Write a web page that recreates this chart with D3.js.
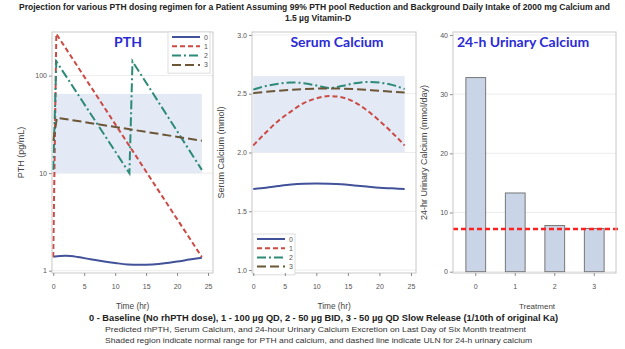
<!DOCTYPE html>
<html>
<head>
<meta charset="utf-8">
<script src="https://cdn.jsdelivr.net/npm/d3@7"></script>
<style>
  body { margin: 0; background: #fff; }
  svg { font-family: "Liberation Sans", Arial, sans-serif; }
</style>
</head>
<body>
<div id="chart"></div>
<script>
// PTH (pg/mL) over the last day, [time hr, value]
const pth0 = [[0, 1.39], [2, 1.42], [4, 1.38], [6, 1.31], [8, 1.25], [10, 1.2], [12, 1.16], [14, 1.15], [16, 1.16], [18, 1.19], [20, 1.24], [22, 1.3], [24, 1.36]];
const pth1 = [[0, 1.38], [0.5, 268], [24, 1.38]];
const pth2 = [[0, 10.8], [0.5, 140], [12.3, 10], [12.8, 140], [24, 10.8]];
const pth3 = [[0, 21.5], [0.6, 37], [24, 21.5]];

// Serum calcium (mmol)
const ca0 = [[0, 1.69], [2, 1.7], [4, 1.715], [6, 1.728], [8, 1.735], [10, 1.737], [12, 1.735], [14, 1.73], [16, 1.72], [18, 1.71], [20, 1.7], [22, 1.695], [24, 1.69]];
const ca1 = [[0, 2.06], [2, 2.17], [4, 2.27], [6, 2.35], [8, 2.42], [10, 2.46], [12, 2.48], [14, 2.47], [16, 2.43], [18, 2.36], [20, 2.27], [22, 2.17], [24, 2.06]];
const ca2 = [[0, 2.535], [2, 2.565], [4, 2.585], [6, 2.596], [8, 2.59], [10, 2.57], [12, 2.548], [14, 2.565], [16, 2.588], [18, 2.6], [20, 2.595], [22, 2.575], [24, 2.54]];
const ca3 = [[0, 2.505], [4, 2.525], [8, 2.54], [12, 2.545], [16, 2.54], [20, 2.525], [24, 2.51]];

// 24-h urinary calcium (mmol/day)
const treatments = ['0', '1', '2', '3'];
const urineCa = [32.8, 13.3, 7.8, 7.3];
const urineULN = 7.2;

const pthRange = [10, 65];
const caRange = [2.0, 2.65];
const timeTicks = [0, 5, 10, 15, 20, 25];
const seriesNames = ['0', '1', '2', '3'];

const colors = ['#42529a', '#cc4a44', '#2c8a78', '#6b5636'];
const dashes = [null, '5,3', '9,3,2,3', '9,4'];

const width = 625, height = 349;
const plotTop = 32, plotBottom = 273;

const svg = d3.select('#chart').append('svg')
  .attr('width', width)
  .attr('height', height);

// fixed-width text line, centred on x
function textLine(x, y, len, size, weight, fill, str) {
  svg.append('text')
    .attr('x', x).attr('y', y)
    .attr('text-anchor', 'middle')
    .attr('textLength', len).attr('lengthAdjust', 'spacingAndGlyphs')
    .style('font-size', size + 'px').style('font-weight', weight).style('fill', fill)
    .text(str);
}

// header
textLine(314.5, 10, 591, 8.5, 'bold', '#222', 'Projection for various PTH dosing regimen for a Patient Assuming 99% PTH pool Reduction and Background Daily Intake of 2000 mg Calcium and');
svg.append('text')
  .attr('x', 318).attr('y', 21)
  .attr('text-anchor', 'middle')
  .style('font-size', '8.5px').style('font-weight', 'bold').style('fill', '#222')
  .text('1.5 µg Vitamin-D');

function frame(x0, x1, y, yTicks, fmt, ylabel, ylabelX) {
  const g = svg.append('g');
  // grid
  g.selectAll('.grid').data(yTicks).enter().append('line')
    .attr('x1', x0).attr('x2', x1)
    .attr('y1', d => y(d)).attr('y2', d => y(d))
    .style('stroke', '#ececec');
  const ax = g.append('g')
    .attr('transform', `translate(${x0},0)`)
    .call(d3.axisLeft(y).tickValues(yTicks).tickFormat(fmt).tickSize(3).tickPadding(2));
  ax.select('.domain').remove();
  ax.selectAll('line').style('stroke', '#888');
  ax.selectAll('text').style('font-size', '7px').style('fill', '#555');
  svg.append('text')
    .attr('transform', `translate(${ylabelX},${(plotTop + plotBottom) / 2}) rotate(-90)`)
    .attr('text-anchor', 'middle')
    .style('font-size', '9px').style('fill', '#444')
    .text(ylabel);
  return g;
}

function outline(x0, x1) {
  svg.append('rect')
    .attr('x', x0).attr('y', plotTop)
    .attr('width', x1 - x0).attr('height', plotBottom - plotTop)
    .style('fill', 'none').style('stroke', '#c8c8c8');
}

function panelTitle(x, text, anchor) {
  svg.append('text')
    .attr('x', x).attr('y', 47)
    .attr('text-anchor', anchor || 'middle')
    .style('font-family', 'Lato, "Open Sans", sans-serif')
    .style('font-size', '14px').style('font-weight', 'bold').style('fill', '#2b2bd6')
    .text(text);
}

function timeAxis(x, label) {
  const ax = svg.append('g')
    .attr('transform', `translate(0,${plotBottom})`)
    .call(d3.axisBottom(x).tickValues(timeTicks).tickSize(3).tickPadding(8));
  ax.select('.domain').remove();
  ax.selectAll('line').style('stroke', '#888');
  ax.selectAll('text').style('font-size', '7px').style('fill', '#555');
  svg.append('text')
    .attr('x', (x(0) + x(25)) / 2 + 2).attr('y', 309)
    .attr('text-anchor', 'middle')
    .style('font-size', '8.3px').style('fill', '#444')
    .text(label);
}

function legend(x, y, boxW, rowH) {
  const lg = svg.append('g');
  lg.append('rect')
    .attr('x', x).attr('y', y)
    .attr('width', boxW).attr('height', rowH * 4 + 4)
    .style('fill', '#fff').style('stroke', '#ddd');
  seriesNames.forEach((n, i) => {
    const yy = y + 5 + i * rowH;
    lg.append('line')
      .attr('x1', x + 4).attr('x2', x + 32)
      .attr('y1', yy).attr('y2', yy)
      .style('stroke', colors[i]).style('stroke-width', 2)
      .style('stroke-dasharray', dashes[i]);
    lg.append('text')
      .attr('x', x + 36).attr('y', yy + 2.5)
      .style('font-size', '7px').style('fill', '#555')
      .text(n);
  });
}

// ---------- PTH panel ----------
const x1 = d3.scaleLinear().domain([-0.2, 25.8]).range([52, 213]);
const y1 = d3.scaleLog().domain([0.947, 280]).range([plotBottom, plotTop]);
frame(52, 213, y1, [1, 10, 100], d3.format('d'), 'PTH (pg/mL)', 24);
svg.append('rect')
  .attr('x', x1(0)).attr('y', y1(pthRange[1]))
  .attr('width', x1(24) - x1(0)).attr('height', y1(pthRange[0]) - y1(pthRange[1]))
  .style('fill', '#e3e9f5');
const line1 = d3.line().x(d => x1(d[0])).y(d => y1(d[1]));
[pth0, pth1, pth2, pth3].forEach((s, i) => {
  svg.append('path')
    .attr('d', i === 0 ? line1.curve(d3.curveMonotoneX)(s) : line1.curve(d3.curveLinear)(s))
    .style('fill', 'none')
    .style('stroke', colors[i]).style('stroke-width', 2)
    .style('stroke-dasharray', dashes[i]);
});
outline(52, 213);
panelTitle(128, 'PTH');
legend(168, 32, 42, 9.3);
timeAxis(x1, 'Time (hr)');

// ---------- Serum calcium panel ----------
const x2 = d3.scaleLinear().domain([-0.2, 25.8]).range([252, 416]);
const y2 = d3.scaleLinear().domain([0.975, 3.025]).range([plotBottom, plotTop]);
frame(252, 416, y2, [1.0, 1.5, 2.0, 2.5, 3.0], d3.format('.1f'), 'Serum Calcium (mmol)', 224);
svg.append('rect')
  .attr('x', x2(0)).attr('y', y2(caRange[1]))
  .attr('width', x2(24) - x2(0)).attr('height', y2(caRange[0]) - y2(caRange[1]))
  .style('fill', '#e3e9f5');
const line2 = d3.line().x(d => x2(d[0])).y(d => y2(d[1])).curve(d3.curveMonotoneX);
[ca0, ca1, ca2, ca3].forEach((s, i) => {
  svg.append('path')
    .datum(s)
    .attr('d', line2)
    .style('fill', 'none')
    .style('stroke', colors[i]).style('stroke-width', 2)
    .style('stroke-dasharray', dashes[i]);
});
outline(252, 416);
panelTitle(337, 'Serum Calcium');
legend(253, 234, 42, 9.2);
timeAxis(x2, 'Time (hr)');

// ---------- Urinary calcium panel ----------
const x3 = d3.scaleBand().domain(treatments).range([456, 614]).paddingInner(0.5).paddingOuter(0.25);
const y3 = d3.scaleLinear().domain([-0.22, 40.5]).range([plotBottom, plotTop]);
frame(453, 616, y3, [0, 10, 20, 30, 40], d3.format('d'), '24-hr Urinary Calcium (mmol/day)', 427);
svg.selectAll('.bar')
  .data(urineCa)
  .enter().append('rect')
  .attr('x', (d, i) => x3(treatments[i]))
  .attr('y', d => y3(d))
  .attr('width', x3.bandwidth())
  .attr('height', d => y3(0) - y3(d))
  .style('fill', '#c9d4e6')
  .style('stroke', '#777').style('stroke-width', 1);
svg.append('line')
  .attr('x1', 453).attr('x2', 619)
  .attr('y1', y3(urineULN)).attr('y2', y3(urineULN))
  .style('stroke', '#ff2020').style('stroke-width', 2.5)
  .style('stroke-dasharray', '5,3');
outline(453, 616);
panelTitle(457, '24-h Urinary Calcium', 'start');
const ax3 = svg.append('g')
  .attr('transform', `translate(0,${plotBottom})`)
  .call(d3.axisBottom(x3).tickSize(3).tickPadding(8));
ax3.select('.domain').remove();
ax3.selectAll('line').style('stroke', '#888');
ax3.selectAll('text').style('font-size', '7px').style('fill', '#555');
svg.append('text')
  .attr('x', 537).attr('y', 309)
  .attr('text-anchor', 'middle')
  .style('font-size', '8px').style('fill', '#444')
  .text('Treatment');

// ---------- footnotes ----------
textLine(323.5, 321, 469, 8.5, 'bold', '#222', '0 - Baseline (No rhPTH dose),  1 - 100 µg QD,    2 - 50 µg BID,    3 - 50 µg QD Slow Release (1/10th of original Ka)');
textLine(315.5, 332, 421, 8, 'normal', '#333', 'Predicted rhPTH, Serum Calcium, and 24-hour Urinary  Calcium Excretion on Last Day of Six Month treatment');
textLine(318.5, 343, 427, 8, 'normal', '#333', 'Shaded region indicate normal range for PTH and calcium, and dashed line indicate ULN for 24-h urinary calcium');
</script>
</body>
</html>
